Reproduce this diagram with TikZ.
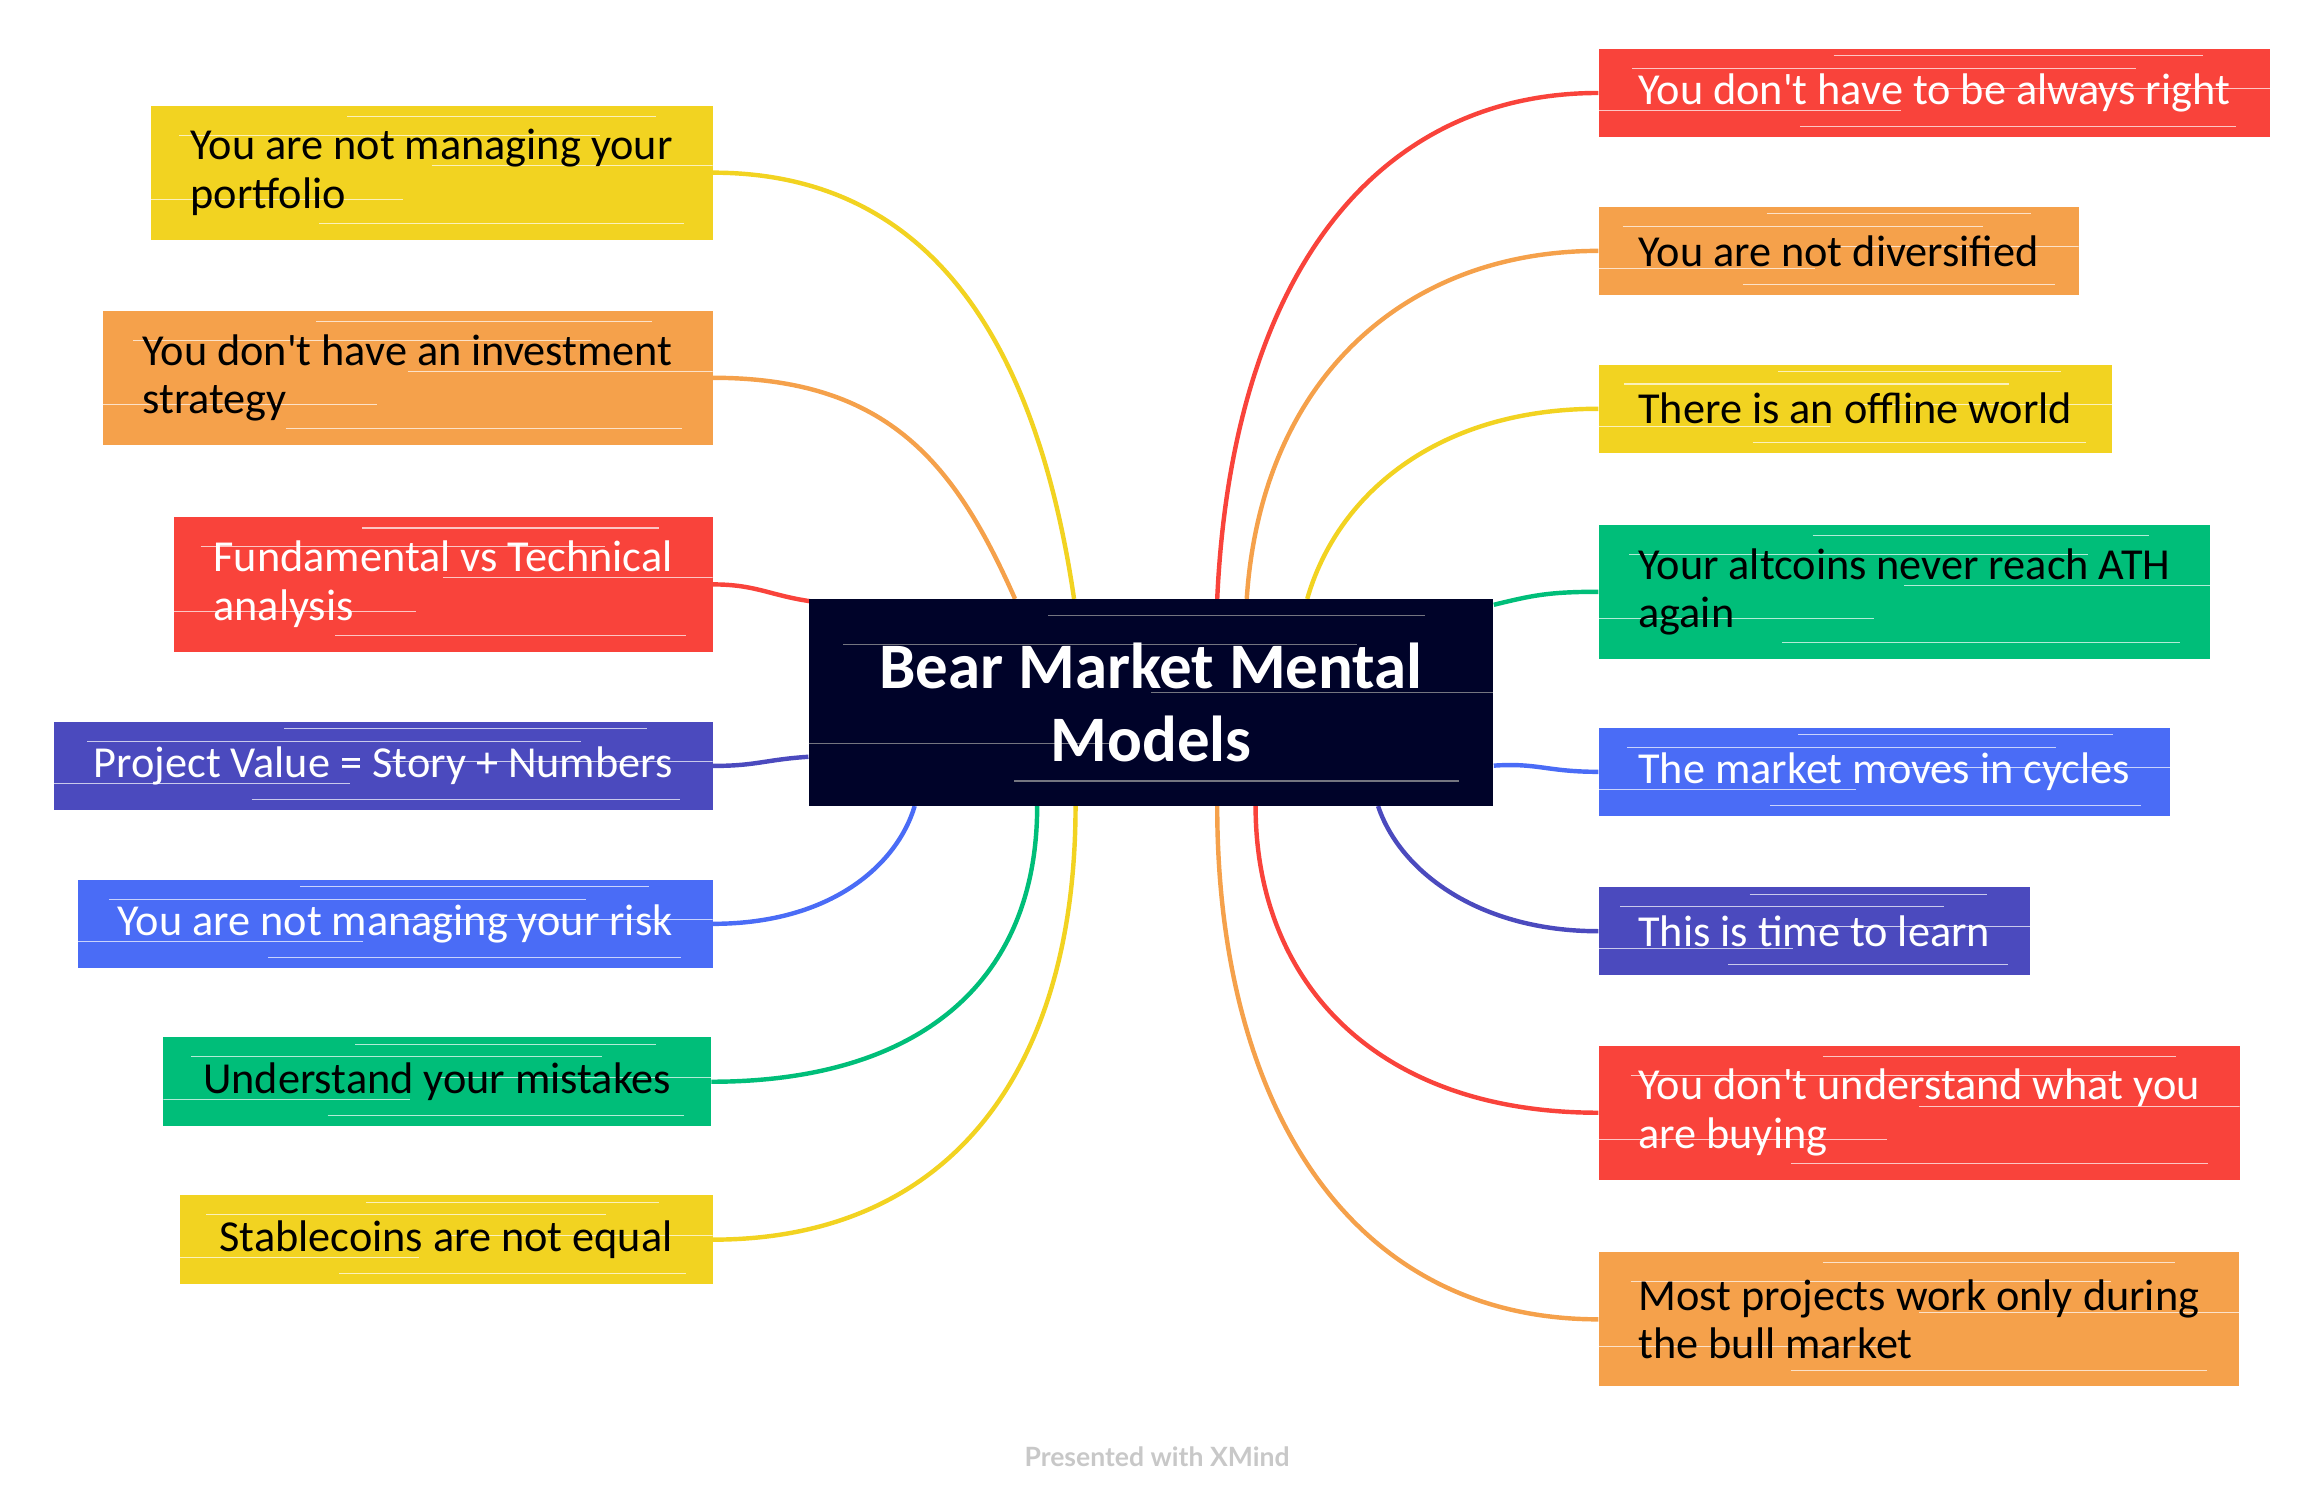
\documentclass[tikz,border=0pt]{standalone}
\usepackage{fontspec}
\newfontfamily\mfont{Carlito}
\newfontfamily\footfont{Lato}
\usetikzlibrary{calc,backgrounds}
\definecolor{cyellow}{HTML}{F2D321}
\definecolor{corange}{HTML}{F5A14B}
\definecolor{cred}{HTML}{F9433B}
\definecolor{cgreen}{HTML}{00BE79}
\definecolor{cblue}{HTML}{4A6CF6}
\definecolor{cindigo}{HTML}{4B4ABE}
\definecolor{cnavy}{HTML}{000329}
\definecolor{cfoot}{HTML}{C8C8C8}
\tikzset{
  streaks/.style={path picture={
    \foreach \fy/\fa/\fb in {0.12/0.3/0.95, 0.3/0.0/0.45, 0.55/0.5/1.0, 0.78/0.05/0.8, 0.92/0.35/0.9}{
      \draw[#1, line width=0.7pt, opacity=0.7] let \p1=(path picture bounding box.south west), \p2=(path picture bounding box.north east) in
        ({\x1+\fa*(\x2-\x1)},{\y1+\fy*(\y2-\y1)}) -- ({\x1+\fb*(\x2-\x1)},{\y1+\fy*(\y2-\y1)});
    }}},
  topic/.style={rectangle, fill=#1, inner xsep=27pt, inner ysep=0pt, minimum height=60pt,
    align=left, font=\mfont\fontsize{30}{33}\selectfont, streaks=white},
  twoline/.style={minimum height=91pt},
  lefttopic/.style={topic=#1, anchor=east},
  righttopic/.style={topic=#1, anchor=west},
  conn/.style={draw=#1, line width=3pt},
}
\begin{document}
\begin{tikzpicture}[x=1pt,y=-1pt]
\useasboundingbox (0,0) rectangle (1568,1022);

% central topic
\node[fill=cnavy, minimum width=464pt, minimum height=140pt, text=white, align=center,
      font=\mfont\bfseries\fontsize{44}{50}\selectfont, streaks=gray!70] (C) at (780,476) {Bear Market Mental\\Models};

% left topics
\node[lefttopic=cyellow, twoline, text=black] (L1) at (483,117) {You are not managing your\\portfolio};
\node[lefttopic=corange, twoline, text=black] (L2) at (483,256) {You don't have an investment\\strategy};
\node[lefttopic=cred, twoline, text=white] (L3) at (483,396) {Fundamental vs Technical\\analysis};
\node[lefttopic=cindigo, text=white] (L4) at (483,519) {Project Value = Story + Numbers};
\node[lefttopic=cblue, text=white] (L5) at (483,626) {You are not managing your risk};
\node[lefttopic=cgreen, text=black] (L6) at (482,733) {Understand your mistakes};
\node[lefttopic=cyellow, text=black] (L7) at (483,840) {Stablecoins are not equal};

% right topics
\node[righttopic=cred, text=white] (R1) at (1083,63) {You don't have to be always right};
\node[righttopic=corange, text=black] (R2) at (1083,170) {You are not diversified};
\node[righttopic=cyellow, text=black] (R3) at (1083,277) {There is an offline world};
\node[righttopic=cgreen, twoline, text=black] (R4) at (1083,401) {Your altcoins never reach ATH\\again};
\node[righttopic=cblue, text=white] (R5) at (1083,523) {The market moves in cycles};
\node[righttopic=cindigo, text=white] (R6) at (1083,631) {This is time to learn};
\node[righttopic=cred, twoline, text=white] (R7) at (1083,754) {You don't understand what you\\are buying};
\node[righttopic=corange, twoline, text=black] (R8) at (1083,894) {Most projects work only during\\the bull market};

% footer
\node[text=cfoot, font=\footfont\bfseries\fontsize{18}{20}\selectfont] (foot) at (784,987) {Presented with XMind};

% connectors
\begin{scope}[on background layer]
\draw[conn=cyellow] (L1.east) .. controls +(150,0) and +(-25,-170) .. ($(C.north west)+(180,0)$);
\draw[conn=corange] (L2.east) .. controls +(120,0) and +(-40,-90) .. ($(C.north west)+(140,0)$);
\draw[conn=cred] (L3.east) .. controls +(30,0) and +(-30,-4) .. ($(C.north west)+(4,2)$);
\draw[conn=cindigo] (L4.east) .. controls +(30,0) and +(-30,2) .. ($(C.north west)+(0,107)$);
\draw[conn=cblue] (L5.east) .. controls +(80,0) and +(-12,40) .. ($(C.south west)+(72,0)$);
\draw[conn=cgreen] (L6.east) .. controls +(140,0) and +(0,120) .. ($(C.south west)+(155,0)$);
\draw[conn=cyellow] (L7.east) .. controls +(160,0) and +(0,180) .. ($(C.south west)+(181,0)$);

\draw[conn=cred] (R1.west) .. controls +(-150,0) and +(10,-220) .. ($(C.north west)+(277,0)$);
\draw[conn=corange] (R2.west) .. controls +(-130,0) and +(10,-150) .. ($(C.north west)+(297,0)$);
\draw[conn=cyellow] (R3.west) .. controls +(-110,0) and +(20,-70) .. ($(C.north west)+(338,0)$);
\draw[conn=cgreen] (R4.west) .. controls +(-35,0) and +(25,-6) .. ($(C.north east)+(0,4)$);
\draw[conn=cblue] (R5.west) .. controls +(-35,0) and +(30,-2) .. ($(C.north east)+(0,113)$);
\draw[conn=cindigo] (R6.west) .. controls +(-80,0) and +(15,45) .. ($(C.south west)+(386,0)$);
\draw[conn=cred] (R7.west) .. controls +(-150,0) and +(0,120) .. ($(C.south west)+(303,0)$);
\draw[conn=corange] (R8.west) .. controls +(-170,0) and +(0,200) .. ($(C.south west)+(277,0)$);
\end{scope}
\end{tikzpicture}
\end{document}
